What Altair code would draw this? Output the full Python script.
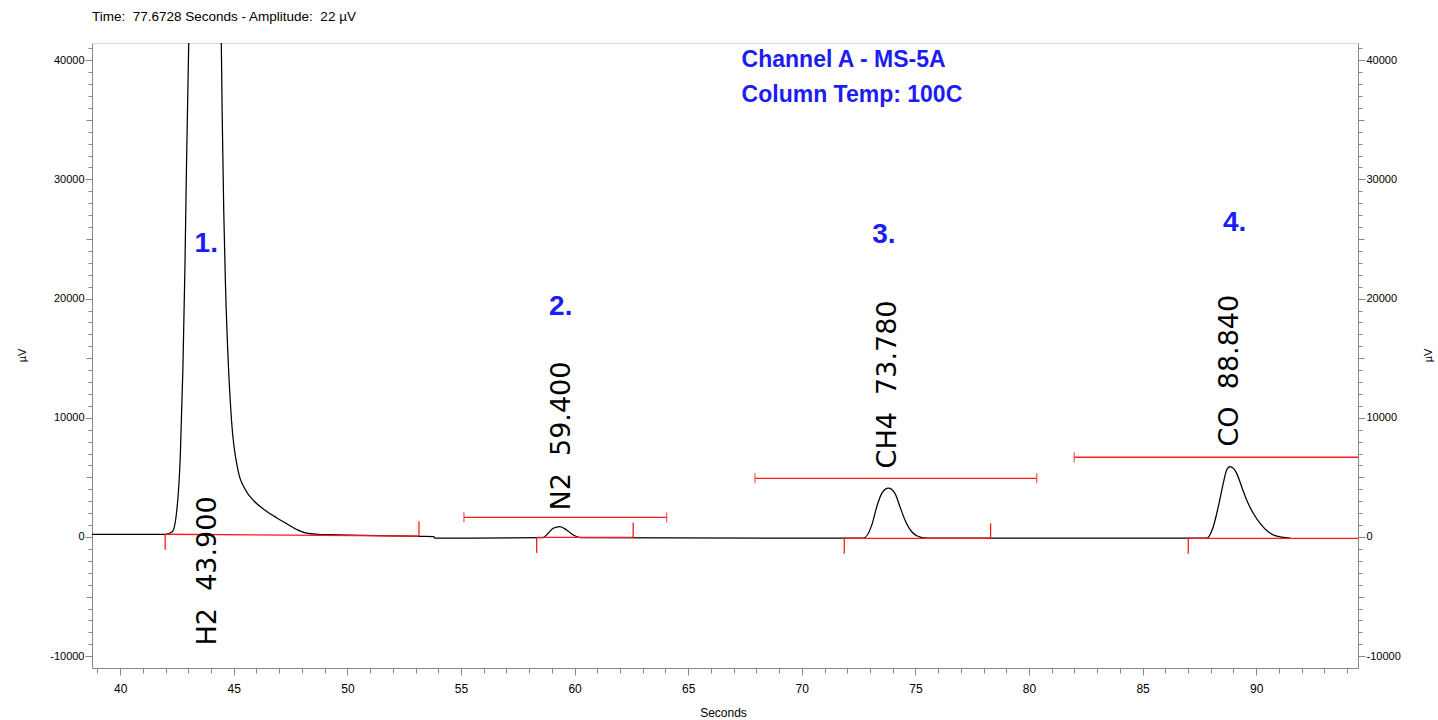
import altair as alt
import pandas as pd

# ---------------- data ----------------
# detector trace (seconds, µV)
trace_t = [38.76, 40.0, 42.0, 42.29, 42.43, 42.65, 42.76, 42.85, 42.92, 43.0,
           43.3, 43.7, 44.1, 44.45, 44.49, 44.56, 44.63, 44.77, 44.9, 45.19,
           45.5, 45.9, 46.38, 46.9, 47.3, 47.8, 48.2, 48.7, 49.2, 53.2, 53.8,
           53.85, 58.6, 58.84, 59.06, 59.35, 59.65, 59.94, 60.3, 72.71, 73.08,
           73.3, 73.52, 73.81, 74.1, 74.32, 74.54, 74.84, 75.06, 75.5, 87.82,
           88.11, 88.33, 88.55, 88.7, 88.85, 89.14, 89.36, 89.58, 89.87, 90.17,
           90.53, 90.83, 91.5]
trace_v = [220, 220, 230, 440, 1300, 7000, 14100, 22600, 31200, 39700,
           60000, 70000, 60000, 41500, 35400, 27200, 21500, 14100, 9800, 5560,
           4000, 3000, 2250, 1600, 1150, 600, 330, 230, 200, 60, 30,
           -90, -60, 310, 730, 865, 590, 170, -60, -100, 1000,
           2540, 3660, 4090, 3660, 2540, 1430, 440, 110, -100, -100,
           860, 2540, 4500, 5620, 5900, 5340, 4220, 3100, 1990, 1150,
           440, 110, -100]

# integration baselines (start/end time and level)
base_start_t = [41.98, 58.33, 71.87, 87.01]
base_end_t = [53.15, 62.58, 78.31, 95.5]
base_start_v = [230, -30, -110, -110]
base_end_v = [80, -30, -110, -110]

# peak-width brackets
brk_start_t = [55.13, 67.94, 81.99]
brk_end_t = [64.05, 80.34, 96.0]
brk_v = [1650, 4920, 6690]

# peak names / retention times and label anchors
peak_names = ["H2", "N2", "CH4", "CO"]
peak_rt = [43.900, 59.400, 73.780, 88.840]
label_t = [43.86, 59.44, 73.80, 88.84]
label_v = [-9100, 2220, 5750, 7590]

# blue peak numbers
num_text = ["1.", "2.", "3.", "4."]
num_t = [43.79, 59.39, 73.61, 89.05]
num_v = [24620, 19320, 25340, 26320]

# header
header_lines = ["Channel A - MS-5A", "Column Temp: 100C"]
header_t = [67.35, 67.35]
header_v = [39450, 36490]

x_ticks = list(range(39, 95))
y_ticks = list(range(-10000, 41001, 1000))

# ---------------- chart ----------------
X_DOM = [38.76, 94.48]
Y_DOM = [-10990, 41443]
RED = "#ff1a1a"
BLUE = "#1c1cf5"
MARK_DOWN = 1300
MARK_UP = 1250

xs = alt.Scale(domain=X_DOM, nice=False, zero=False)
ys = alt.Scale(domain=Y_DOM, nice=False, zero=False)

trace_df = pd.DataFrame({"t": trace_t, "v": trace_v})
base_df = pd.DataFrame({"t": base_start_t, "t2": base_end_t,
                        "v": base_start_v, "v2": base_end_v})
base_df["vd"] = base_df["v"] - MARK_DOWN
base_df["vu"] = base_df["v2"] + MARK_UP
brk_df = pd.DataFrame({"t": brk_start_t, "t2": brk_end_t, "v": brk_v})
caps_df = pd.DataFrame({"t": brk_start_t + brk_end_t, "v": brk_v + brk_v})
lab_df = pd.DataFrame({
    "t": label_t, "v": label_v,
    "txt": [f"{n}\u00a0\u00a0{rt:.3f}" for n, rt in zip(peak_names, peak_rt)],
})
num_df = pd.DataFrame({"t": num_t, "v": num_v, "txt": num_text})
head_df = pd.DataFrame({"t": header_t, "v": header_v, "txt": header_lines})

x_axis = alt.Axis(
    values=x_ticks, grid=False,
    labelExpr="datum.value % 5 === 0 ? '' + datum.value : ''",
    tickSize={"condition": {"test": "datum.value % 5 === 0", "value": 7}, "value": 5},
    labelPadding=8, labelFontSize=12, labelOverlap=False, labelFlush=False,
    title="Seconds", titleX=631, titleY=44, titleBaseline="middle",
    titleAlign="center", titleFontSize=12, titleFontWeight="normal",
)


def y_axis(orient, title_x):
    return alt.Axis(
        orient=orient, grid=False,
        values=y_ticks,
        labelExpr="datum.value % 10000 === 0 ? '' + datum.value : ''",
        tickSize={"condition": [
            {"test": "datum.value % 10000 === 0", "value": 7},
            {"test": "datum.value % 5000 === 0", "value": 6}], "value": 4},
        labelPadding=1, labelFontSize=11, labelOverlap=False, labelFlush=False,
        title="µV", titleAngle=270, titleX=title_x, titleY=312,
        titleBaseline="middle", titleAlign="center", titleFontSize=11,
        titleFontWeight="normal",
    )


trace = alt.Chart(trace_df).mark_line(color="black", strokeWidth=1.25, clip=True,
                                      interpolate="monotone").encode(
    x=alt.X("t:Q", scale=xs, axis=x_axis),
    y=alt.Y("v:Q", scale=ys, axis=y_axis("left", -70)),
)

base_lines = alt.Chart(base_df).mark_rule(color=RED, strokeWidth=1.3, clip=True).encode(
    x=alt.X("t:Q", scale=xs, axis=None), x2="t2:Q",
    y=alt.Y("v:Q", scale=ys, axis=y_axis("right", 70)), y2="v2:Q",
)
start_marks = alt.Chart(base_df).mark_rule(color=RED, strokeWidth=1.3, clip=True).encode(
    x=alt.X("t:Q", scale=xs, axis=None),
    y=alt.Y("v:Q", scale=ys, axis=None), y2="vd:Q",
)
end_marks = alt.Chart(base_df).mark_rule(color=RED, strokeWidth=1.3, clip=True).encode(
    x=alt.X("t2:Q", scale=xs, axis=None),
    y=alt.Y("v2:Q", scale=ys, axis=None), y2="vu:Q",
)
brackets = alt.Chart(brk_df).mark_rule(color=RED, strokeWidth=1.3, clip=True).encode(
    x=alt.X("t:Q", scale=xs, axis=None), x2="t2:Q",
    y=alt.Y("v:Q", scale=ys, axis=None),
)
caps = alt.Chart(caps_df).mark_tick(color=RED, orient="vertical", size=10,
                                    thickness=1.3, clip=True).encode(
    x=alt.X("t:Q", scale=xs, axis=None),
    y=alt.Y("v:Q", scale=ys, axis=None),
)
labels = alt.Chart(lab_df).mark_text(angle=270, align="left", baseline="middle",
                                     font="DejaVu Sans", fontSize=27,
                                     color="black").encode(
    x=alt.X("t:Q", scale=xs, axis=None),
    y=alt.Y("v:Q", scale=ys, axis=None),
    text="txt:N",
)
numbers = alt.Chart(num_df).mark_text(align="center", baseline="middle",
                                      font="Liberation Sans", fontWeight="bold",
                                      fontSize=28, color=BLUE).encode(
    x=alt.X("t:Q", scale=xs, axis=None),
    y=alt.Y("v:Q", scale=ys, axis=None),
    text="txt:N",
)
header = alt.Chart(head_df).mark_text(align="left", baseline="alphabetic",
                                      font="Liberation Sans", fontWeight="bold",
                                      fontSize=23, color=BLUE).encode(
    x=alt.X("t:Q", scale=xs, axis=None),
    y=alt.Y("v:Q", scale=ys, axis=None),
    text="txt:N",
)

chart = alt.layer(
    trace, base_lines, start_marks, end_marks, brackets, caps, labels, numbers, header
).resolve_axis(
    x="independent", y="independent"
).properties(
    width=1266, height=625,
    autosize=alt.AutoSizeParams(type="none"),
    padding={"left": 92, "top": 43, "right": 80, "bottom": 52},
    title=alt.TitleParams(
        "Time:\u00a0\u00a077.6728 Seconds - Amplitude:\u00a0\u00a022 µV",
        anchor="start", frame="group", fontSize=13.5, font="Liberation Sans",
        fontWeight="normal", color="black", offset=19,
    ),
).configure_view(
    stroke="black", strokeWidth=1
).configure_axis(
    grid=False, domainColor="black", domainWidth=1, tickColor="black",
    tickWidth=1, labelColor="black", titleColor="black",
    labelFont="Liberation Sans", titleFont="Liberation Sans",
    titleFontWeight="normal",
).configure(background="white")

chart.save("out.html", embed_options={"renderer": "svg", "actions": False})
